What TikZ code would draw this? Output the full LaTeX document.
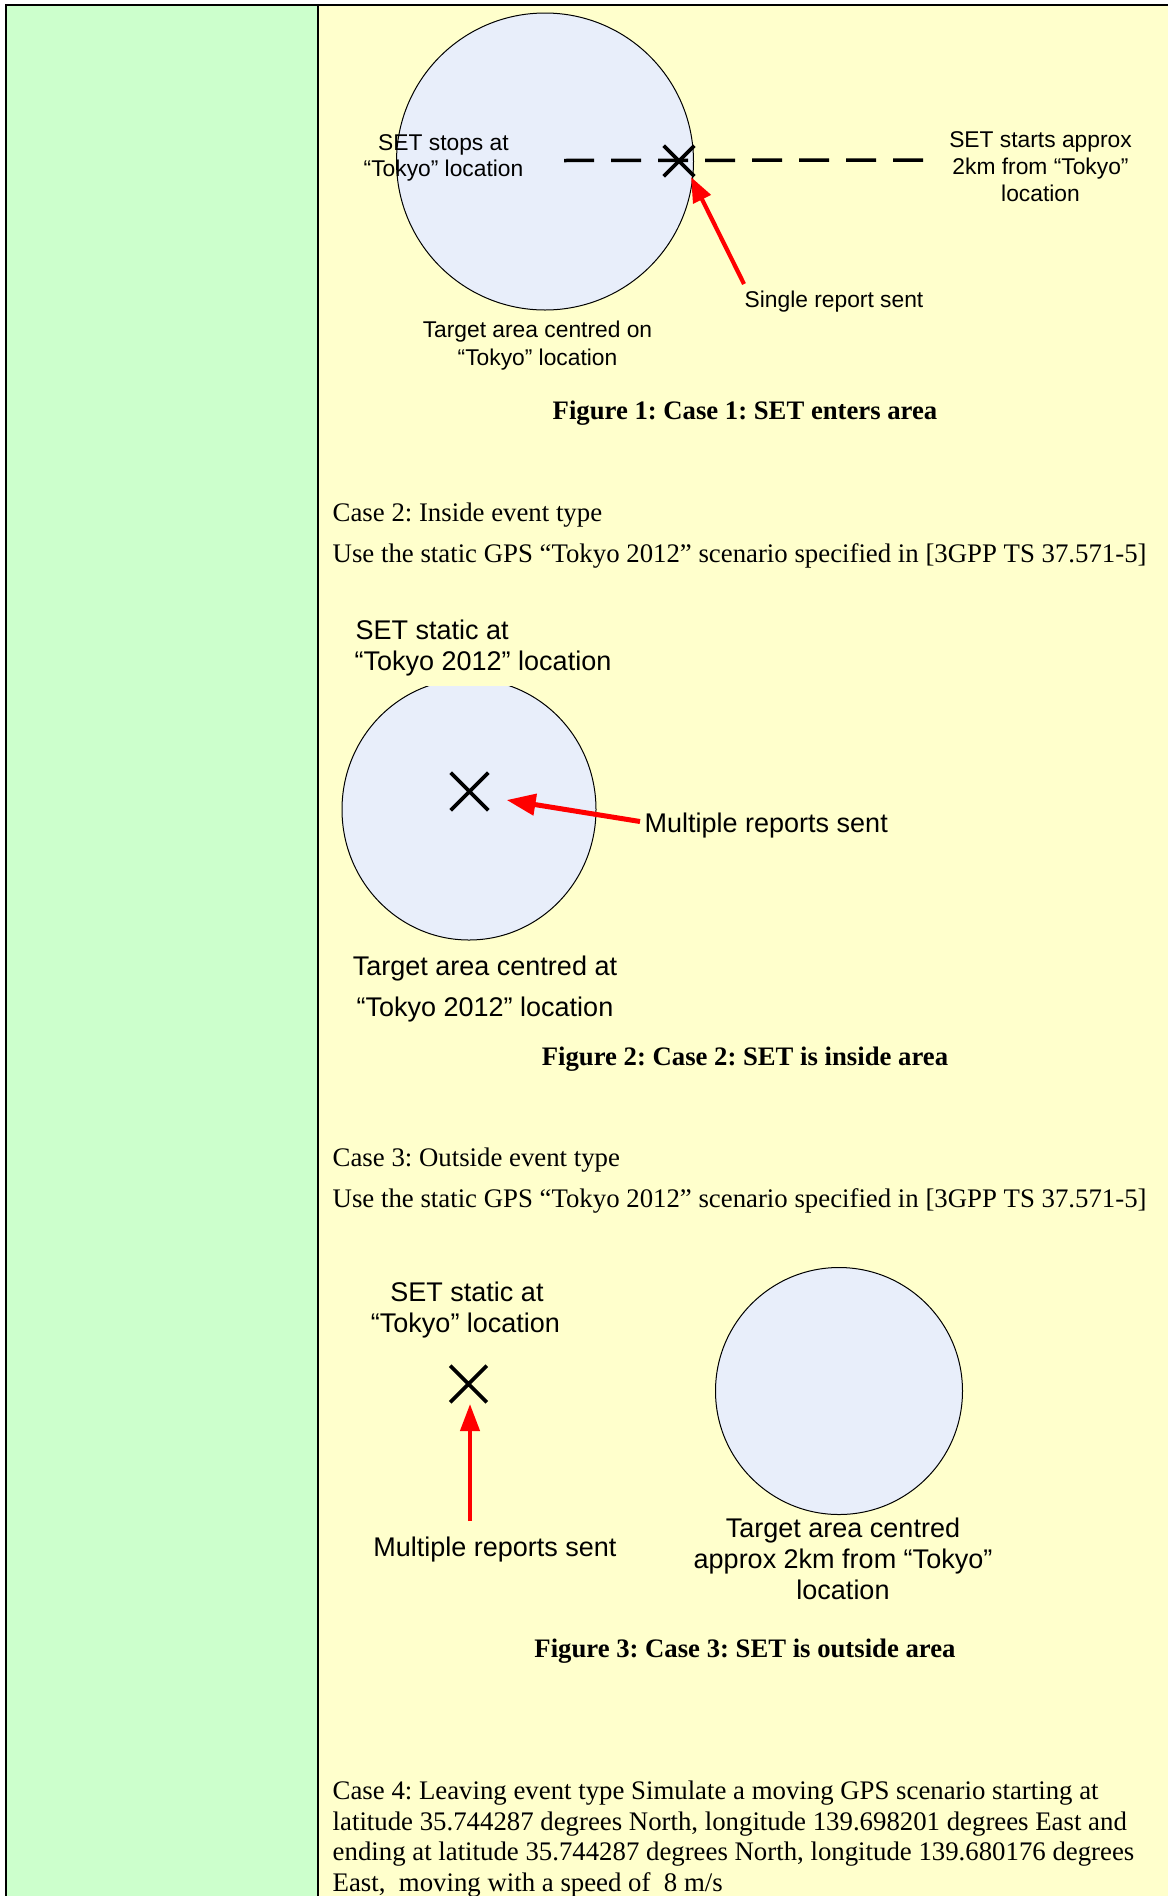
\documentclass[tikz,border=0pt]{standalone}
\usepackage{fontspec}
\setmainfont{Liberation Serif}
\newfontfamily\arialf{Liberation Sans}
\usetikzlibrary{arrows.meta,shapes.misc}
\definecolor{cellgreen}{RGB}{204,255,204}
\definecolor{cellyellow}{RGB}{255,255,204}
\definecolor{areablue}{RGB}{232,238,250}
\definecolor{arrred}{RGB}{255,0,0}
\frenchspacing
\begin{document}
\begin{tikzpicture}[x=1pt,y=-1pt,
  lbl/.style={font=\arialf\fontsize{22.8}{27}\selectfont, inner sep=0pt, anchor=base},
  lblb/.style={font=\arialf\fontsize{27}{31}\selectfont, inner sep=0pt, anchor=base},
  lblbw/.style={lblb, anchor=base west},
  body/.style={font=\fontsize{26.8}{30}\selectfont, inner sep=0pt, anchor=base west},
  figcap/.style={font=\bfseries\fontsize{26.7}{30}\selectfont, inner sep=0pt, anchor=base},
  area/.style={draw=black, line width=1pt, fill=areablue},
  xmark/.style={cross out, draw=black, line width=3.6pt, inner sep=0pt},
  redarr/.style={draw=arrred, line width=4.2pt, -{Triangle[length=25pt,width=19pt]}},
  dashline/.style={draw=black, line width=3.5pt, dash pattern=on 30pt off 17pt},
  rule/.style={draw=black, line width=2pt}
]
\useasboundingbox (0,0) rectangle (1168,1896);
% cells
\fill[white] (0,0) rectangle (1168,1896);
\fill[cellgreen] (6,5) rectangle (318,1896);
\fill[cellyellow] (318,5) rectangle (1168,1896);
\draw[rule] (6,1896) -- (6,5) -- (1168,5);
\draw[rule] (318,5) -- (318,1896);

% ---------------- Figure 1 ----------------
\draw[area] (545,161.5) circle[radius=148.5];
\coordinate (d1s) at (923,160);
\coordinate (d1e) at (563,160.5);
\draw[dashline] (d1s) -- (d1e);
\node[xmark, minimum size=27pt] (x1) at (679,161) {};
\coordinate (a1s) at (744,284);
\coordinate (a1t) at (691,177);
\draw[redarr] (a1s) -- (a1t);
\node[lbl] (l1a) at (443.5,150) {SET stops at};
\node[lbl] (l1b) at (443.5,176.7) {“Tokyo” location};
\node[lbl] (l1c) at (1040.5,147.3) {SET starts approx};
\node[lbl] (l1d) at (1040.5,174.2) {2km from “Tokyo”};
\node[lbl] (l1e) at (1040.5,201.5) {location};
\node[lbl] (l1f) at (834,307.3) {Single report sent};
\node[lbl] (l1g) at (537.5,337.3) {Target area centred on};
\node[lbl] (l1h) at (537.5,365) {“Tokyo” location};
\node[figcap] (c1) at (745,419.3) {Figure 1: Case 1: SET enters area};

% ---------------- Case 2 ----------------
\node[body] (t2a) at (332.5,521.5) {Case 2: Inside event type};
\node[body] (t2b) at (332.5,562) {Use the static GPS “Tokyo 2012” scenario specified in [3GPP TS 37.571-5]};
\draw[area] (469,809.5) ellipse[x radius=127, y radius=130.5];
\fill[cellyellow] (400,670) rectangle (540,685.7);
\node[xmark, minimum size=34pt] (x2) at (469.5,791.5) {};
\coordinate (a2s) at (640,821.5);
\coordinate (a2t) at (506.6,800);
\draw[redarr, line width=5pt, -{Triangle[length=29pt,width=21pt]}] (a2s) -- (a2t);
\node[lblbw] (l2a) at (355.5,639.2) {SET static at};
\node[lblbw] (l2b) at (354.5,670.2) {“Tokyo 2012” location};
\node[lblbw] (l2c) at (644.5,832) {Multiple reports sent};
\node[lblb] (l2d) at (485,975) {Target area centred at};
\node[lblb] (l2e) at (485,1016) {“Tokyo 2012” location};
\node[figcap] (c2) at (745,1065.3) {Figure 2: Case 2: SET is inside area};

% ---------------- Case 3 ----------------
\node[body] (t3a) at (332.5,1166) {Case 3: Outside event type};
\node[body] (t3b) at (332.5,1207.5) {Use the static GPS “Tokyo 2012” scenario specified in [3GPP TS 37.571-5]};
\node[lblb] (l3a) at (467,1301) {SET static at};
\node[lblb] (l3b) at (465.5,1332) {“Tokyo” location};
\node[xmark, minimum size=33pt] (x3) at (468.5,1384) {};
\coordinate (a3s) at (470,1521);
\coordinate (a3t) at (470,1404);
\draw[redarr, -{Triangle[length=27pt,width=19pt]}] (a3s) -- (a3t);
\node[lblb] (l3c) at (495,1556) {Multiple reports sent};
\draw[area] (839,1391) circle[radius=123.5];
\node[lblb] (l3d) at (843,1537) {Target area centred};
\node[lblb] (l3e) at (843,1568.3) {approx 2km from “Tokyo”};
\node[lblb] (l3f) at (843,1599.5) {location};
\node[figcap] (c3) at (745,1657) {Figure 3: Case 3: SET is outside area};

% ---------------- Case 4 ----------------
\node[body] (t4a) at (332.5,1799.5) {Case 4: Leaving event type Simulate a moving GPS scenario starting at};
\node[body] (t4b) at (332.5,1830) {latitude 35.744287 degrees North, longitude 139.698201 degrees East and};
\node[body] (t4c) at (332.5,1860.5) {ending at latitude 35.744287 degrees North, longitude 139.680176 degrees};
\node[body] (t4d) at (332.5,1891) {East,\ \ moving with a speed of\ \ 8 m/s};
\end{tikzpicture}
\end{document}
